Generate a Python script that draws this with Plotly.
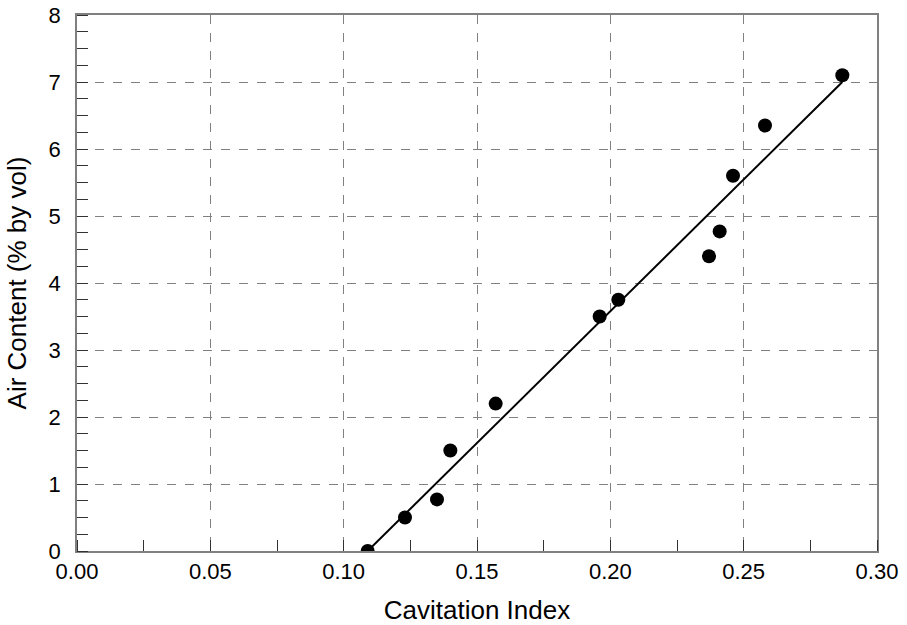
import plotly.graph_objects as go

cav_index = [0.109, 0.123, 0.135, 0.140, 0.157, 0.196, 0.203, 0.237, 0.241, 0.246, 0.258, 0.287]
air_content = [0.0, 0.5, 0.77, 1.5, 2.2, 3.5, 3.75, 4.4, 4.77, 5.6, 6.35, 7.1]

fit_x = [0.109, 0.287]
fit_y = [0.0, 7.0]

x_ticks = [0.0, 0.05, 0.10, 0.15, 0.20, 0.25, 0.30]
x_labels = ["0.00", "0.05", "0.10", "0.15", "0.20", "0.25", "0.30"]
y_ticks = [0, 1, 2, 3, 4, 5, 6, 7, 8]

fig = go.Figure()
fig.add_trace(go.Scatter(x=fit_x, y=fit_y, mode="lines",
                         line=dict(color="black", width=2), showlegend=False))
fig.add_trace(go.Scatter(x=cav_index, y=air_content, mode="markers",
                         marker=dict(color="black", size=14), showlegend=False))

font = "Liberation Sans, Arial, sans-serif"
fig.update_layout(
    width=907, height=625,
    margin=dict(l=77, r=30, t=15, b=74, autoexpand=False),
    plot_bgcolor="white", paper_bgcolor="white",
    font=dict(family=font, size=22, color="black"),
)
fig.update_xaxes(
    range=[0, 0.30], tickvals=x_ticks, ticktext=x_labels,
    showgrid=True, gridcolor="#808080", griddash="dash", gridwidth=1,
    showline=True, linecolor="#808080", linewidth=1.5, mirror=True,
    ticks="", zeroline=False, automargin=False, ticklabeloverflow="allow",
    title=dict(text="Cavitation Index", font=dict(size=26), standoff=18),
    tickfont=dict(size=22),
    minor=dict(dtick=0.025, tick0=0, ticks="inside", ticklen=11, tickcolor="#333333", showgrid=False),
)
fig.update_yaxes(
    range=[0, 8], tickvals=y_ticks,
    showgrid=True, gridcolor="#808080", griddash="dash", gridwidth=1,
    showline=True, linecolor="#808080", linewidth=1.5, mirror=True,
    ticks="", zeroline=False, automargin=False, ticklabeloverflow="allow",
    title=dict(text="Air Content (% by vol)", font=dict(size=26), standoff=14),
    tickfont=dict(size=22), ticklabelstandoff=10,
    minor=dict(dtick=0.25, tick0=0, ticks="inside", ticklen=11, tickcolor="#333333", showgrid=False),
)

fig.write_html("out.html", config={"displayModeBar": False},
               post_script="document.body.style.margin='0';")
